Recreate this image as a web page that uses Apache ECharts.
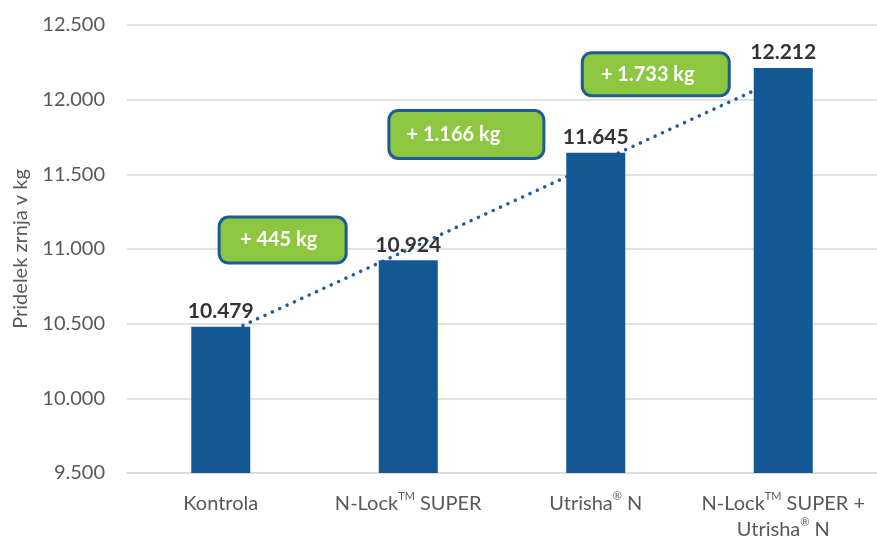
<!DOCTYPE html>
<html>
<head>
<meta charset="utf-8">
<script src="https://cdn.jsdelivr.net/npm/echarts@6/dist/echarts.min.js"></script>
<style>
  html, body { margin: 0; padding: 0; background: #fff; }
  #chart { width: 877px; height: 543px; }
</style>
</head>
<body>
<div id="chart"></div>
<script>
// podatki
const categories = ['Kontrola', 'N-Lock™ SUPER', 'Utrisha® N', 'N-Lock™ SUPER +\nUtrisha® N']
const yields = [10479, 10924, 11645, 12212]
const trendline = [10420, null, null, 12150]
const gainLabels = ['+ 445 kg', '+ 1.166 kg', '+ 1.733 kg']
// sredina okvirjev v enotah osi (x = indeks kategorije, y = kg)
const gainX = [0.33, 1.31, 2.32]
const gainY = [11060, 11767, 12170]

const font = 'Lato, "Open Sans", sans-serif'

function fmt(n) {
  return String(n).replace(/\B(?=(\d{3})+(?!\d))/g, '.')
}

const boxW = [116, 126, 128]
const boxPad = [8, 26, 16]
const boxH = [43, 45, 40]

const chart = echarts.init(document.getElementById('chart'))
chart.setOption({
  animation: false,
  grid: {
    left: 127,
    right: 0,
    top: 25,
    bottom: 68
  },
  xAxis: [{
    type: 'category',
    data: categories,
    axisTick: { show: false },
    axisLine: { lineStyle: { color: '#d9d9d9', width: 1.5 } },
    axisLabel: {
      margin: 18,
      interval: 0,
      color: '#595959',
      fontSize: 20,
      fontFamily: font,
      lineHeight: 26,
      formatter: function (v) {
        return v.replace(/™/g, '{sup|TM}').replace(/®/g, '{sup|®}')
      },
      rich: {
        sup: { fontSize: 11, fontFamily: font, color: '#595959', verticalAlign: 'top', lineHeight: 22 }
      }
    }
  }, {
    type: 'value',
    min: -0.5,
    max: 3.5,
    show: false
  }],
  yAxis: {
    type: 'value',
    min: 9500,
    max: 12500,
    interval: 500,
    name: 'Pridelek zrnja v kg',
    nameLocation: 'middle',
    nameGap: 96,
    nameTextStyle: { color: '#595959', fontSize: 20, fontFamily: font },
    axisLine: { show: false },
    axisTick: { show: false },
    splitLine: { lineStyle: { color: '#d9d9d9', width: 1.5 } },
    axisLabel: {
      margin: 22,
      color: '#595959',
      fontSize: 20,
      fontFamily: font,
      formatter: fmt
    }
  },
  series: [{
    name: 'trend',
    type: 'line',
    z: 1,
    data: trendline,
    connectNulls: true,
    symbol: 'none',
    silent: true,
    lineStyle: { color: '#1f5c9c', width: 3.5, type: [0.1, 8], cap: 'round' }
  }, {
    name: 'pridelek',
    type: 'bar',
    z: 3,
    barWidth: 59,
    data: yields,
    itemStyle: { color: '#135895' },
    label: {
      show: true,
      position: 'top',
      distance: 5,
      color: '#333333',
      fontWeight: 'bold',
      fontSize: 21,
      fontFamily: font,
      formatter: function (p) { return fmt(p.value) }
    }
  }, {
    name: 'razlika',
    type: 'scatter',
    xAxisIndex: 1,
    z: 5,
    symbolSize: 1,
    itemStyle: { color: 'rgba(0,0,0,0)', opacity: 1 },
    silent: true,
    data: gainLabels.map(function (t, i) {
      return {
        name: t,
        value: [gainX[i], gainY[i]],
        label: {
          width: boxW[i],
          height: boxH[i],
          lineHeight: boxH[i],
          padding: [0, boxPad[i], 0, 0]
        }
      }
    }),
    label: {
      show: true,
      position: 'inside',
      formatter: function (p) { return p.name },
      color: '#ffffff',
      fontWeight: 'bold',
      fontSize: 20,
      fontFamily: font,
      align: 'center',
      verticalAlign: 'middle',
      backgroundColor: '#8dc63f',
      borderColor: '#1e5a96',
      borderWidth: 3,
      borderRadius: 8
    }
  }]
})
</script>
</body>
</html>
